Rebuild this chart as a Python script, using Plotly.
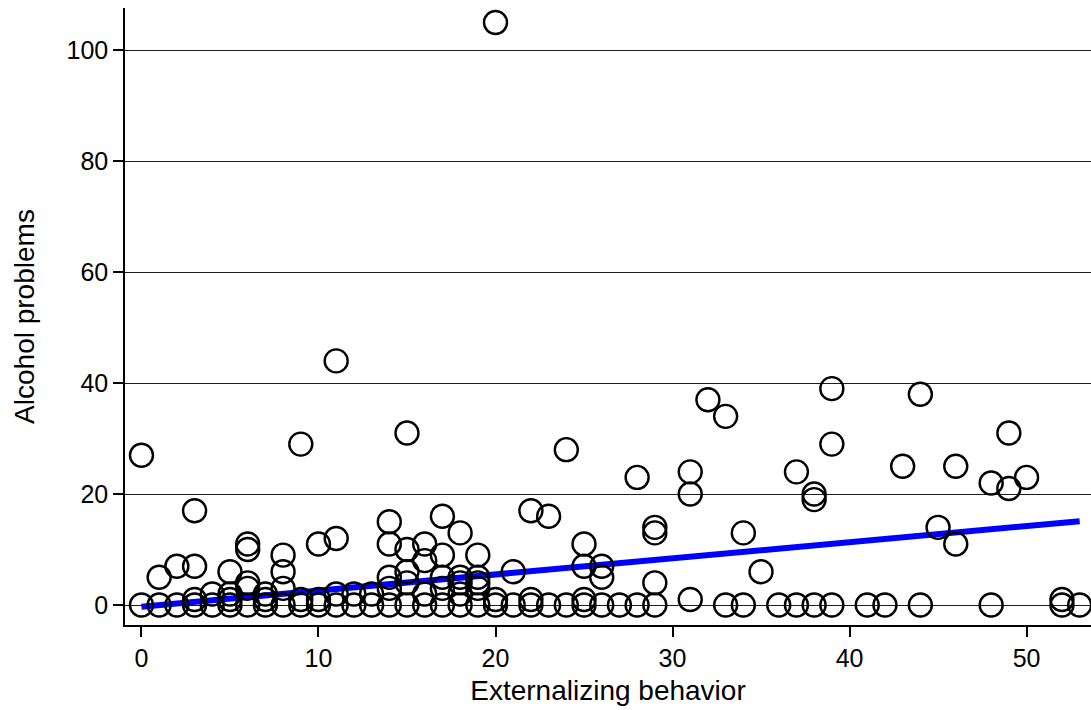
import plotly.graph_objects as go

# Externalizing behavior (x) and alcohol problems (y)
upper_x = [20, 11, 0, 9, 15, 24, 32, 33, 39, 39, 44, 49, 43, 46, 37, 31, 31, 38, 38, 28, 50, 48, 49,
           3, 22, 23, 17, 14, 29, 29, 34, 45, 18, 11, 10, 14, 46, 25, 6, 6, 16, 15, 19, 8, 17, 16,
           1, 2, 3, 5, 8, 21, 35, 25, 26, 26, 29, 31, 52]
upper_y = [105, 44, 27, 29, 31, 28, 37, 34, 39, 29, 38, 31, 25, 25, 24, 24, 20, 20, 19, 23, 23, 22, 21,
           17, 17, 16, 16, 15, 14, 13, 13, 14, 13, 12, 11, 11, 11, 11, 11, 10, 11, 10, 9, 9, 9, 8,
           5, 7, 7, 6, 6, 6, 6, 7, 7, 5, 4, 1, 1]

low_x = [4, 5, 6, 6, 7, 7, 8, 3, 5, 10, 11, 12, 13, 14, 14, 15, 15, 16, 17, 17, 18, 18, 19, 19, 19,
         20, 22, 25, 9, 18]
low_y = [2, 2, 4, 3, 2, 1, 3, 1, 1, 1, 2, 2, 2, 5, 3, 6, 4, 2, 5, 3, 4, 2, 5, 4, 3,
         1, 1, 1, 1, 5]

zero_x = list(range(0, 30)) + [33, 34, 36, 37, 38, 39, 41, 42, 44, 48, 52, 53]
zero_y = [0] * len(zero_x)

# Linear fit endpoints
fit_x = [0, 53]
fit_y = [-0.3, 15.1]

xs = upper_x + low_x + zero_x
ys = upper_y + low_y + zero_y

x_ticks = [0, 10, 20, 30, 40, 50]
y_ticks = [0, 20, 40, 60, 80, 100]

fig = go.Figure()
fig.add_trace(go.Scatter(x=fit_x, y=fit_y, mode="lines",
                         line=dict(color="rgb(0,0,255)", width=6),
                         showlegend=False, hoverinfo="skip"))
fig.add_trace(go.Scatter(x=xs, y=ys, mode="markers",
                         marker=dict(symbol="circle-open", size=23, color="black",
                                     line=dict(color="black", width=2.4)),
                         showlegend=False, cliponaxis=True))

font_family = "Liberation Sans, Arial, Helvetica, sans-serif"
fig.update_layout(
    width=1091, height=710,
    margin=dict(l=125, r=0, t=8, b=85),
    paper_bgcolor="white", plot_bgcolor="white",
    font=dict(family=font_family, size=25, color="black"),
    showlegend=False,
)
fig.update_xaxes(
    range=[-0.93, 53.64], tickvals=x_ticks, ticktext=[str(v) for v in x_ticks],
    showgrid=False, zeroline=False, showline=True, linecolor="black", linewidth=1.5,
    ticks="outside", ticklen=10, tickwidth=1.5, tickcolor="black",
    title=dict(text="Externalizing behavior", font=dict(size=28), standoff=10),
    tickfont=dict(size=25), automargin=False,
)
fig.update_yaxes(
    range=[-3.6, 107.6], tickvals=y_ticks, ticktext=[str(v) for v in y_ticks],
    showgrid=True, gridcolor="rgb(30,30,30)", gridwidth=1,
    zeroline=False, showline=True, linecolor="black", linewidth=1.5,
    ticks="outside", ticklen=10, tickwidth=1.5, tickcolor="black",
    title=dict(text="Alcohol problems", font=dict(size=28), standoff=24),
    tickfont=dict(size=25), automargin=False,
)

fig.write_html("out.html", config={"displayModeBar": False},
               post_script="document.body.style.margin='0';document.body.style.overflow='hidden';")
